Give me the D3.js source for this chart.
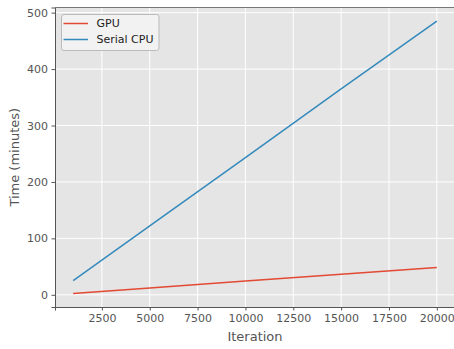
<!DOCTYPE html>
<html>
<head>
<meta charset="utf-8">
<script src="https://cdn.jsdelivr.net/npm/d3@7"></script>
<style>
  body { margin: 0; background: #fff; }
  text { font-family: "DejaVu Sans", sans-serif; }
</style>
</head>
<body>
<div id="chart"></div>
<script>
// data
const iterations = [1000, 5000, 10000, 15000, 20000];
const gpuTimes = [2.5, 12, 24.5, 36.5, 48.5];
const cpuTimes = [25, 122, 243, 365, 485];
const seriesNames = ["GPU", "Serial CPU"];
const xTicks = [2500, 5000, 7500, 10000, 12500, 15000, 17500, 20000];
const yTicks = [0, 100, 200, 300, 400, 500];

const W = 454, H = 349;
const margin = { top: 7.5, right: -1, bottom: 42, left: 55 };
const colors = ["#E24A33", "#348ABD"];

const svg = d3.select("#chart").append("svg")
    .attr("width", W)
    .attr("height", H);

// matplotlib style 5% padding around the data
let allY = gpuTimes.concat(cpuTimes);
let xMin = d3.min(iterations), xMax = d3.max(iterations);
let yMin = d3.min(allY), yMax = d3.max(allY);
let xPad = (xMax - xMin) * 0.05, yPad = (yMax - yMin) * 0.05;

let x = d3.scaleLinear()
    .domain([xMin - xPad, xMax + xPad])
    .range([margin.left, W - margin.right]);
let y = d3.scaleLinear()
    .domain([yMin - yPad, yMax + yPad])
    .range([H - margin.bottom, margin.top]);

// plot background
svg.append("rect")
    .attr("x", margin.left)
    .attr("y", margin.top)
    .attr("width", W - margin.right - margin.left)
    .attr("height", H - margin.bottom - margin.top)
    .attr("fill", "#E5E5E5");

// grid
svg.append("g").selectAll("line").data(xTicks).enter().append("line")
    .attr("x1", d => x(d)).attr("x2", d => x(d))
    .attr("y1", margin.top).attr("y2", H - margin.bottom)
    .attr("stroke", "#fff").attr("stroke-width", 1);
svg.append("g").selectAll("line").data(yTicks).enter().append("line")
    .attr("x1", margin.left).attr("x2", W - margin.right)
    .attr("y1", d => y(d)).attr("y2", d => y(d))
    .attr("stroke", "#fff").attr("stroke-width", 1);

// axes
let xAxis = svg.append("g")
    .attr("transform", "translate(0," + (H - margin.bottom) + ")")
    .call(d3.axisBottom(x).tickValues(xTicks).tickFormat(d3.format("d")).tickSizeOuter(0).tickSize(3.5).tickPadding(3.5));
let yAxis = svg.append("g")
    .attr("transform", "translate(" + margin.left + ",0)")
    .call(d3.axisLeft(y).tickValues(yTicks).tickFormat(d3.format("d")).tickSizeOuter(0).tickSize(3.5).tickPadding(3.5));

[xAxis, yAxis].forEach(function(a) {
    a.select(".domain").attr("stroke", "#555").attr("stroke-width", 1);
    a.selectAll(".tick line").attr("stroke", "#555");
    a.selectAll(".tick text")
        .attr("fill", "#555")
        .style("font-size", "11px")
        .style("font-family", "DejaVu Sans");
});

// top spine
svg.append("line")
    .attr("x1", margin.left).attr("x2", W)
    .attr("y1", margin.top).attr("y2", margin.top)
    .attr("stroke", "#777").attr("stroke-width", 1);

// lines
let line = d3.line()
    .x(d => x(d[0]))
    .y(d => y(d[1]));
[gpuTimes, cpuTimes].forEach(function(vals, i) {
    svg.append("path")
        .datum(iterations.map((it, j) => [it, vals[j]]))
        .attr("d", line)
        .attr("fill", "none")
        .attr("stroke", colors[i])
        .attr("stroke-width", 1.5);
});

// axis labels
svg.append("text")
    .attr("x", (margin.left + W - margin.right) / 2)
    .attr("y", 341)
    .attr("text-anchor", "middle")
    .attr("fill", "#555")
    .style("font-size", "13px")
    .text("Iteration");
svg.append("text")
    .attr("transform", "translate(19," + (margin.top + H - margin.bottom) / 2 + ")rotate(-90)")
    .attr("text-anchor", "middle")
    .attr("fill", "#555")
    .style("font-size", "13px")
    .text("Time (minutes)");

// legend
let legend = svg.append("g");
legend.append("rect")
    .attr("x", 61.5).attr("y", 14.5)
    .attr("width", 97.5).attr("height", 36)
    .attr("rx", 2.5)
    .attr("fill", "#f2f2f2")
    .attr("stroke", "#bbb");
seriesNames.forEach(function(name, i) {
    let ly = 23.5 + i * 16;
    legend.append("line")
        .attr("x1", 63.5).attr("x2", 88)
        .attr("y1", ly).attr("y2", ly)
        .attr("stroke", colors[i]).attr("stroke-width", 1.5);
    legend.append("text")
        .attr("x", 96.5).attr("y", ly)
        .attr("dy", "0.35em")
        .attr("fill", "#222")
        .style("font-size", "11px")
        .text(name);
});
</script>
</body>
</html>
